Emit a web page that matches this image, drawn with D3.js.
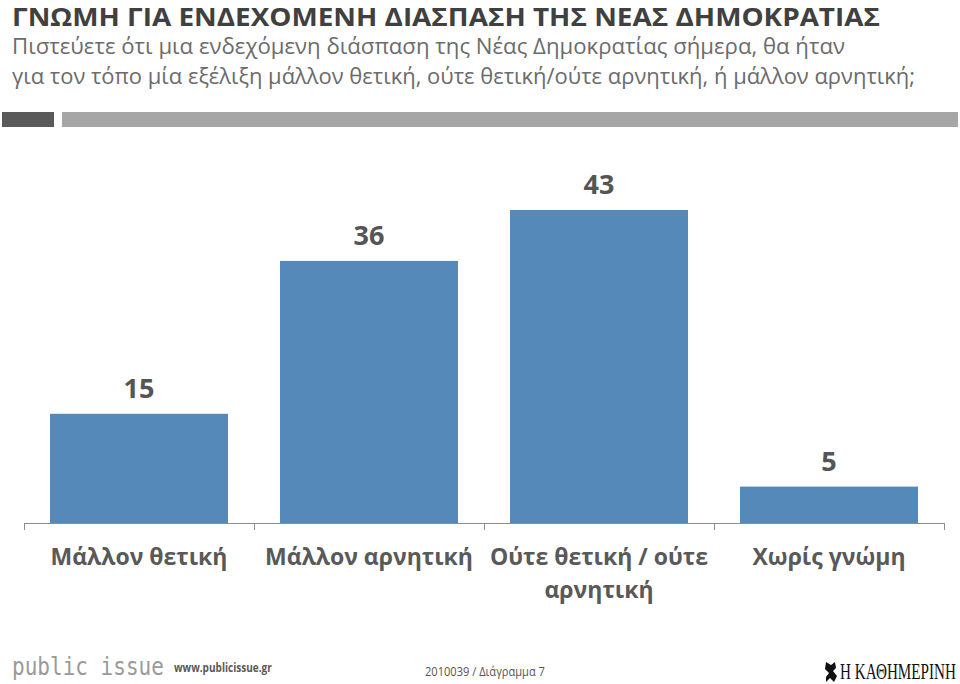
<!DOCTYPE html>
<html><head><meta charset="utf-8">
<script src="https://cdn.jsdelivr.net/npm/d3@7"></script>
<style>body{margin:0;background:#fff}svg{display:block}</style>
</head><body>
<svg id="c" width="960" height="684"></svg>
<script>
const categories = [["Μάλλον θετική"], ["Μάλλον αρνητική"], ["Ούτε θετική / ούτε", "αρνητική"], ["Χωρίς γνώμη"]];
const values = [15, 36, 43, 5];
const title = "ΓΝΩΜΗ ΓΙΑ ΕΝΔΕΧΟΜΕΝΗ ΔΙΑΣΠΑΣΗ ΤΗΣ ΝΕΑΣ ΔΗΜΟΚΡΑΤΙΑΣ";
const subtitle = ["Πιστεύετε ότι μια ενδεχόμενη διάσπαση της Νέας Δημοκρατίας σήμερα, θα ήταν",
                  "για τον τόπο μία εξέλιξη μάλλον θετική, ούτε θετική/ούτε αρνητική, ή μάλλον αρνητική;"];
const footerUrl = "www.publicissue.gr";
const footerCode = "2010039 / Διάγραμμα 7";

const svg = d3.select("#c");
const F = "'Open Sans', 'Noto Sans', sans-serif";

// fit text horizontally to a target width via scale transform
function fitText(sel, x0, yb, w) {
  const n = sel.node().getComputedTextLength();
  const k = w / n;
  sel.attr("x", 0).attr("y", 0).attr("transform", `translate(${x0},${yb}) scale(${k},1)`);
}

// Header
svg.append("text").attr("x", 12).attr("y", 26).text(title)
  .attr("font-family", F).attr("font-weight", 700).attr("font-size", 24.5)
  .attr("fill", "#404040").attr("textLength", 868).attr("lengthAdjust", "spacingAndGlyphs");
svg.append("text").attr("x", 12).attr("y", 54).text(subtitle[0])
  .attr("font-family", F).attr("font-size", 21).attr("fill", "#6b6b6b")
  .attr("textLength", 833).attr("lengthAdjust", "spacingAndGlyphs");
svg.append("text").attr("x", 12).attr("y", 84).text(subtitle[1])
  .attr("font-family", F).attr("font-size", 21).attr("fill", "#6b6b6b")
  .attr("textLength", 903).attr("lengthAdjust", "spacingAndGlyphs");
svg.append("rect").attr("x", 2).attr("y", 112).attr("width", 52).attr("height", 15).attr("fill", "#5a5a5a");
svg.append("rect").attr("x", 62).attr("y", 112).attr("width", 896).attr("height", 15).attr("fill", "#a6a6a6");

// Chart
const x = d3.scaleBand().domain(d3.range(values.length)).range([24, 944])
  .paddingInner(0.226).paddingOuter(0.113);
const y = d3.scaleLinear().domain([0, 50]).range([523, 159]);

svg.append("g").selectAll("rect").data(values).join("rect")
  .attr("x", (d, i) => x(i)).attr("width", x.bandwidth())
  .attr("y", d => y(d)).attr("height", d => y(0) - y(d))
  .attr("fill", "#5589b9");

svg.append("g").selectAll("text").data(values).join("text")
  .attr("x", (d, i) => x(i) + x.bandwidth() / 2).attr("y", d => y(d) - 16)
  .attr("text-anchor", "middle").attr("font-family", F).attr("font-weight", 700)
  .attr("font-size", 27).attr("fill", "#555555").text(d => d);

// Axis
const axisG = svg.append("g");
axisG.append("line").attr("x1", 24).attr("x2", 944).attr("y1", y(0) + 0.5).attr("y2", y(0) + 0.5)
  .attr("stroke", "#8c8c8c").attr("stroke-width", 1);
const step = x.step();
const ticks = d3.range(values.length + 1).map(i => 24 + i * step);
axisG.selectAll("line.t").data(ticks).join("line").attr("class", "t")
  .attr("x1", d => Math.round(d) + 0.5).attr("x2", d => Math.round(d) + 0.5)
  .attr("y1", y(0)).attr("y2", y(0) + 7).attr("stroke", "#8c8c8c");

const lab = svg.append("g").selectAll("text").data(categories).join("text")
  .attr("x", (d, i) => x(i) + x.bandwidth() / 2).attr("y", 565)
  .attr("text-anchor", "middle").attr("font-family", F).attr("font-weight", 700)
  .attr("font-size", 23).attr("fill", "#595959");
lab.selectAll("tspan").data(d => d).join("tspan")
  .attr("x", function () { return d3.select(this.parentNode).attr("x"); })
  .attr("dy", (d, i) => i === 0 ? 0 : 33).text(d => d);

// Footer
fitText(svg.append("text").text("public issue")
  .attr("font-family", "'DejaVu Sans Mono', monospace").attr("font-size", 25).attr("fill", "#9a9a9a"),
  12, 675, 152);
fitText(svg.append("text").text(footerUrl)
  .attr("font-family", F).attr("font-weight", 700).attr("font-size", 11.5).attr("fill", "#595959"),
  174, 672, 98);
fitText(svg.append("text").text(footerCode)
  .attr("font-family", F).attr("font-size", 12).attr("fill", "#555555"),
  425, 676, 120);
svg.append("path").attr("d", "M826,662 l5,3 l4,-3 l1,6 l-3,3 l4,5 l-3,6 l-4,-4 l-4,4 l0,-5 l3,-4 l-4,-4 z")
  .attr("fill", "#111");
fitText(svg.append("text").text("Η ΚΑΘΗΜΕΡΙΝΗ")
  .attr("font-family", "'Liberation Serif', serif").attr("font-size", 24).attr("fill", "#111"),
  840, 679, 116);
</script>
</body></html>
